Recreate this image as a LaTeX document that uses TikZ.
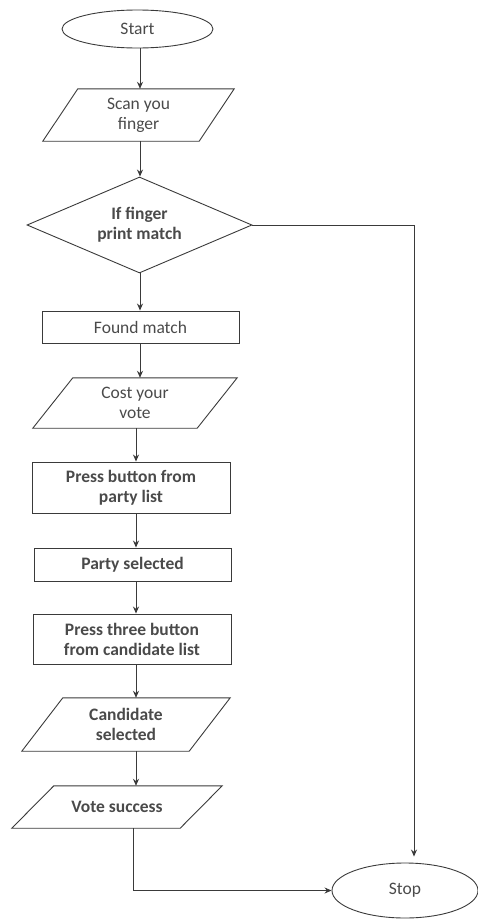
\documentclass[tikz,border=0pt]{standalone}
\usepackage{fontspec}
\setmainfont{Carlito}
\usetikzlibrary{shapes.geometric,arrows.meta}
\definecolor{ln}{HTML}{3A3A3A}
\definecolor{tx}{HTML}{4A4A4A}
\newcommand\drawpara[2]{\draw[shp] ([xshift=#2]#1.north west) -- (#1.north east) -- ([xshift=-#2]#1.south east) -- (#1.south west) -- cycle;}
\begin{document}
\begin{tikzpicture}[x=1pt,y=1pt,
  shp/.style={draw=ln,line width=0.9pt},
  lbl/.style={text=tx,font=\fontsize{17.5}{20}\selectfont,align=center,inner sep=0pt},
  bl/.style={font=\fontsize{17.5}{20}\selectfont\bfseries},
  term/.style={lbl,shp,ellipse,inner sep=0pt},
  procbox/.style={lbl,shp,rectangle,inner sep=0pt},
  iobox/.style={lbl,rectangle,inner sep=0pt},
  dec/.style={lbl,shp,diamond,aspect=2.34,inner sep=0pt},
  arr/.style={draw=ln,line width=1pt,-{Stealth[length=7pt,width=6pt]}},
  con/.style={draw=ln,line width=1pt}]
\useasboundingbox (0,0) rectangle (478,-921);
% columns
\coordinate (c1) at (140,0);
\coordinate (c2) at (136,0);
\coordinate (c3) at (133,0);
\coordinate (c4) at (414,0);
% nodes
\node[term,minimum width=151pt,minimum height=38pt] (start) at (137.5,-29) {Start};
\node[iobox,minimum width=191pt,minimum height=52pt] (scan) at (138.5,-115) {Scan you\\finger};
\drawpara{scan}{35pt}
\node[dec,bl,minimum width=225pt,minimum height=96pt] (dia) at (139.5,-225) {If finger\\print match};
\node[procbox,minimum width=197pt,minimum height=32pt] (found) at (140.5,-327) {Found match};
\node[iobox,minimum width=204pt,minimum height=50pt] (cost) at (135,-403) {Cost your\\vote};
\drawpara{cost}{40pt}
\node[procbox,bl,minimum width=198pt,minimum height=51pt] (press) at (131,-487.5) {Press button from\\party list};
\node[procbox,bl,minimum width=197pt,minimum height=33pt] (party) at (132.5,-564.5) {Party selected};
\node[procbox,bl,minimum width=198pt,minimum height=50pt] (three) at (132,-639) {Press three button\\from candidate list};
\node[iobox,bl,minimum width=208pt,minimum height=53pt] (cand) at (126,-724.5) {Candidate\\selected};
\drawpara{cand}{41pt}
\node[iobox,bl,minimum width=210pt,minimum height=42pt] (vote) at (117,-807) {Vote success};
\drawpara{vote}{42pt}
\node[term,minimum width=146pt,minimum height=55pt] (stop) at (405,-890.5) {Stop};
% connectors
\draw[arr] (start.south -| c1) -- (scan.north -| c1);
\draw[arr] (scan.south -| c1) -- (dia.north -| c1);
\draw[arr] (dia.south -| c1) -- (found.north -| c1);
\draw[arr] (found.south -| c1) -- (cost.north -| c1);
\draw[arr] (cost.south -| c2) -- (press.north -| c2);
\draw[arr] (press.south -| c2) -- (party.north -| c2);
\draw[arr] (party.south -| c2) -- (three.north -| c2);
\draw[arr] (three.south -| c2) -- (cand.north -| c2);
\draw[arr] (cand.south -| c2) -- (vote.north -| c2);
\draw[arr] (dia.east) -- (dia.east -| c4) -- ([yshift=6pt]stop.north -| c4);
\draw[arr] (vote.south -| c3) |- (stop.west);
\end{tikzpicture}
\end{document}
